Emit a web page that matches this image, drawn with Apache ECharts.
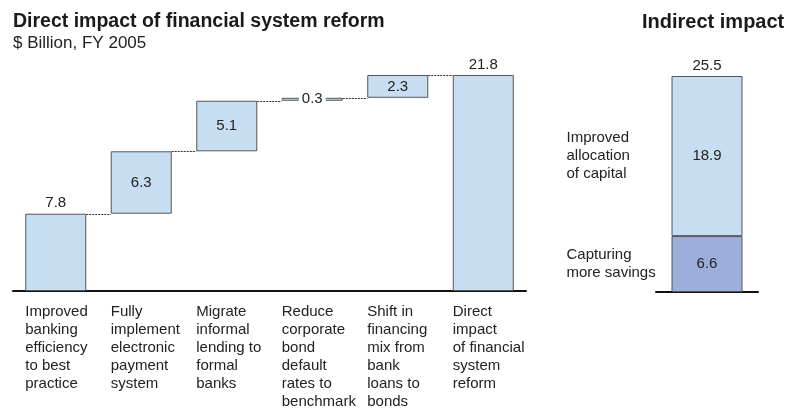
<!DOCTYPE html>
<html>
<head>
<meta charset="utf-8">
<script src="https://cdn.jsdelivr.net/npm/echarts@6/dist/echarts.min.js"></script>
<style>
  html, body { margin: 0; padding: 0; background: #fff; }
  #chart { width: 791px; height: 410px; }
</style>
</head>
<body>
<div id="chart"></div>
<script>
// ---- Data -------------------------------------------------------------
const stepLabels = [
  'Improved\nbanking\nefficiency\nto best\npractice',
  'Fully\nimplement\nelectronic\npayment\nsystem',
  'Migrate\ninformal\nlending to\nformal\nbanks',
  'Reduce\ncorporate\nbond\ndefault\nrates to\nbenchmark',
  'Shift in\nfinancing\nmix from\nbank\nloans to\nbonds',
  'Direct\nimpact\nof financial\nsystem\nreform'
];
const stepValues = [7.8, 6.3, 5.1, 0.3, 2.3];   // $ Billion per reform step
const directTotal = 21.8;

const indirectNames = ['Capturing\nmore savings', 'Improved\nallocation\nof capital'];
const indirectValues = [6.6, 18.9];
const indirectTotal = 25.5;

// ---- Derived waterfall layout values ------------------------------------
const round1 = v => Math.round(v * 10) / 10;
const bases = [];
const levels = [];          // running total after each step
let running = 0;
stepValues.forEach(v => {
  bases.push(running);
  running = round1(running + v);
  levels.push(running);
});
bases.push(0);
const heights = stepValues.concat([directTotal]);

const indirectMids = [];
let acc = 0;
indirectValues.forEach(v => { indirectMids.push(acc + v / 2); acc += v; });

// ---- Styling ----------------------------------------------------------
const FONT = '"Liberation Sans", Arial, Helvetica, sans-serif';
const TEXT = '#222';
const LIGHT = '#c6ddf2';
const DARK = '#9caedb';
const EDGE = '#555';
const BAR_W = 61;
const BAR_W_R = 71;

const chart = echarts.init(document.getElementById('chart'), null, { renderer: 'canvas' });

const valueLabel = {
  show: true,
  color: TEXT,
  fontSize: 15,
  fontFamily: FONT,
  formatter: p => p.value.toFixed(1)
};

const option = {
  animation: false,
  backgroundColor: '#fff',
  title: [
    {
      text: 'Direct impact of financial system reform',
      subtext: '$ Billion, FY 2005',
      left: 13, top: 11, padding: 0, itemGap: 0,
      textStyle: { fontFamily: FONT, fontSize: 19.5, fontWeight: 'bold', color: '#1a1a1a', lineHeight: 22 },
      subtextStyle: { fontFamily: FONT, fontSize: 17, color: TEXT, lineHeight: 20 }
    },
    {
      text: 'Indirect impact',
      left: 642, top: 11, padding: 0,
      textStyle: { fontFamily: FONT, fontSize: 20, fontWeight: 'bold', color: '#1a1a1a', lineHeight: 22 }
    }
  ],
  grid: [
    { left: 13, right: 265, top: 75, bottom: 119, outerBoundsMode: 'none' },
    { left: 656, right: 33, top: 76, bottom: 118, outerBoundsMode: 'none' }
  ],
  xAxis: [
    {
      type: 'category', gridIndex: 0, data: stepLabels,
      axisLine: { lineStyle: { color: '#111', width: 2 } },
      axisTick: { show: false },
      axisLabel: {
        interval: 0, align: 'left', verticalAlign: 'top',
        padding: [0, 0, 0, -30.5], margin: 12,
        fontSize: 15, lineHeight: 18, fontFamily: FONT, color: TEXT
      }
    },
    {
      type: 'category', gridIndex: 1, data: ['Indirect impact'],
      axisLine: { lineStyle: { color: '#111', width: 2 } },
      axisTick: { show: false },
      axisLabel: { show: false }
    }
  ],
  yAxis: [
    { type: 'value', gridIndex: 0, min: 0, max: directTotal, show: false },
    { type: 'value', gridIndex: 1, min: 0, max: indirectTotal, show: false }
  ],
  series: [
    // invisible offsets that lift each step
    {
      type: 'bar', xAxisIndex: 0, yAxisIndex: 0, stack: 'fall', barWidth: BAR_W,
      data: bases, itemStyle: { color: 'transparent' }, silent: true
    },
    // visible steps and total
    {
      type: 'bar', xAxisIndex: 0, yAxisIndex: 0, stack: 'fall', barWidth: BAR_W,
      itemStyle: { color: LIGHT, borderColor: EDGE, borderWidth: 1 },
      label: Object.assign({}, valueLabel, { position: 'inside' }),
      data: heights.map((v, i) => {
        const item = { value: v };
        if (i === 0 || i === heights.length - 1) {
          item.label = { position: 'top', distance: 3 };
        } else if (v < 1) {
          item.label = { position: 'inside', backgroundColor: '#fff', padding: [0, 3] };
        }
        return item;
      })
    },
    // dotted connectors between consecutive steps
    {
      type: 'custom', xAxisIndex: 0, yAxisIndex: 0, silent: true, z: 1,
      data: levels.map((lv, i) => [i, lv]),
      renderItem: (params, api) => {
        const p = api.coord([api.value(0), api.value(1)]);
        const band = api.size([1, 0])[0];
        const y = Math.round(p[1]) + 0.5;
        return {
          type: 'line',
          shape: { x1: p[0] + BAR_W / 2, y1: y, x2: p[0] + band - BAR_W / 2, y2: y },
          style: { stroke: '#333', lineWidth: 1, lineDash: [2, 1] }
        };
      }
    },
    // indirect impact stack
    {
      type: 'bar', xAxisIndex: 1, yAxisIndex: 1, stack: 'ind', barWidth: BAR_W_R,
      itemStyle: { color: DARK, borderColor: EDGE, borderWidth: 1 },
      label: Object.assign({}, valueLabel, { position: 'inside' }),
      data: [indirectValues[0]]
    },
    {
      type: 'bar', xAxisIndex: 1, yAxisIndex: 1, stack: 'ind', barWidth: BAR_W_R,
      itemStyle: { color: LIGHT, borderColor: EDGE, borderWidth: 1 },
      label: Object.assign({}, valueLabel, { position: 'inside' }),
      data: [indirectValues[1]]
    },
    // zero-height cap carrying the stack total
    {
      type: 'bar', xAxisIndex: 1, yAxisIndex: 1, stack: 'ind', barWidth: BAR_W_R,
      itemStyle: { color: 'transparent' }, silent: true,
      label: Object.assign({}, valueLabel, {
        position: 'top', distance: 3, formatter: () => indirectTotal.toFixed(1)
      }),
      data: [0]
    },
    // segment names to the left of the indirect stack
    {
      type: 'custom', xAxisIndex: 1, yAxisIndex: 1, silent: true,
      data: indirectMids.map(m => [0, m]),
      renderItem: (params, api) => {
        const p = api.coord([api.value(0), api.value(1)]);
        return {
          type: 'text',
          x: p[0] - BAR_W_R / 2 - 105,
          y: p[1],
          style: {
            text: indirectNames[params.dataIndex],
            align: 'left', verticalAlign: 'middle',
            fontSize: 15, fontFamily: FONT, lineHeight: 18, fill: TEXT
          }
        };
      }
    }
  ]
};

chart.setOption(option);
</script>
</body>
</html>
